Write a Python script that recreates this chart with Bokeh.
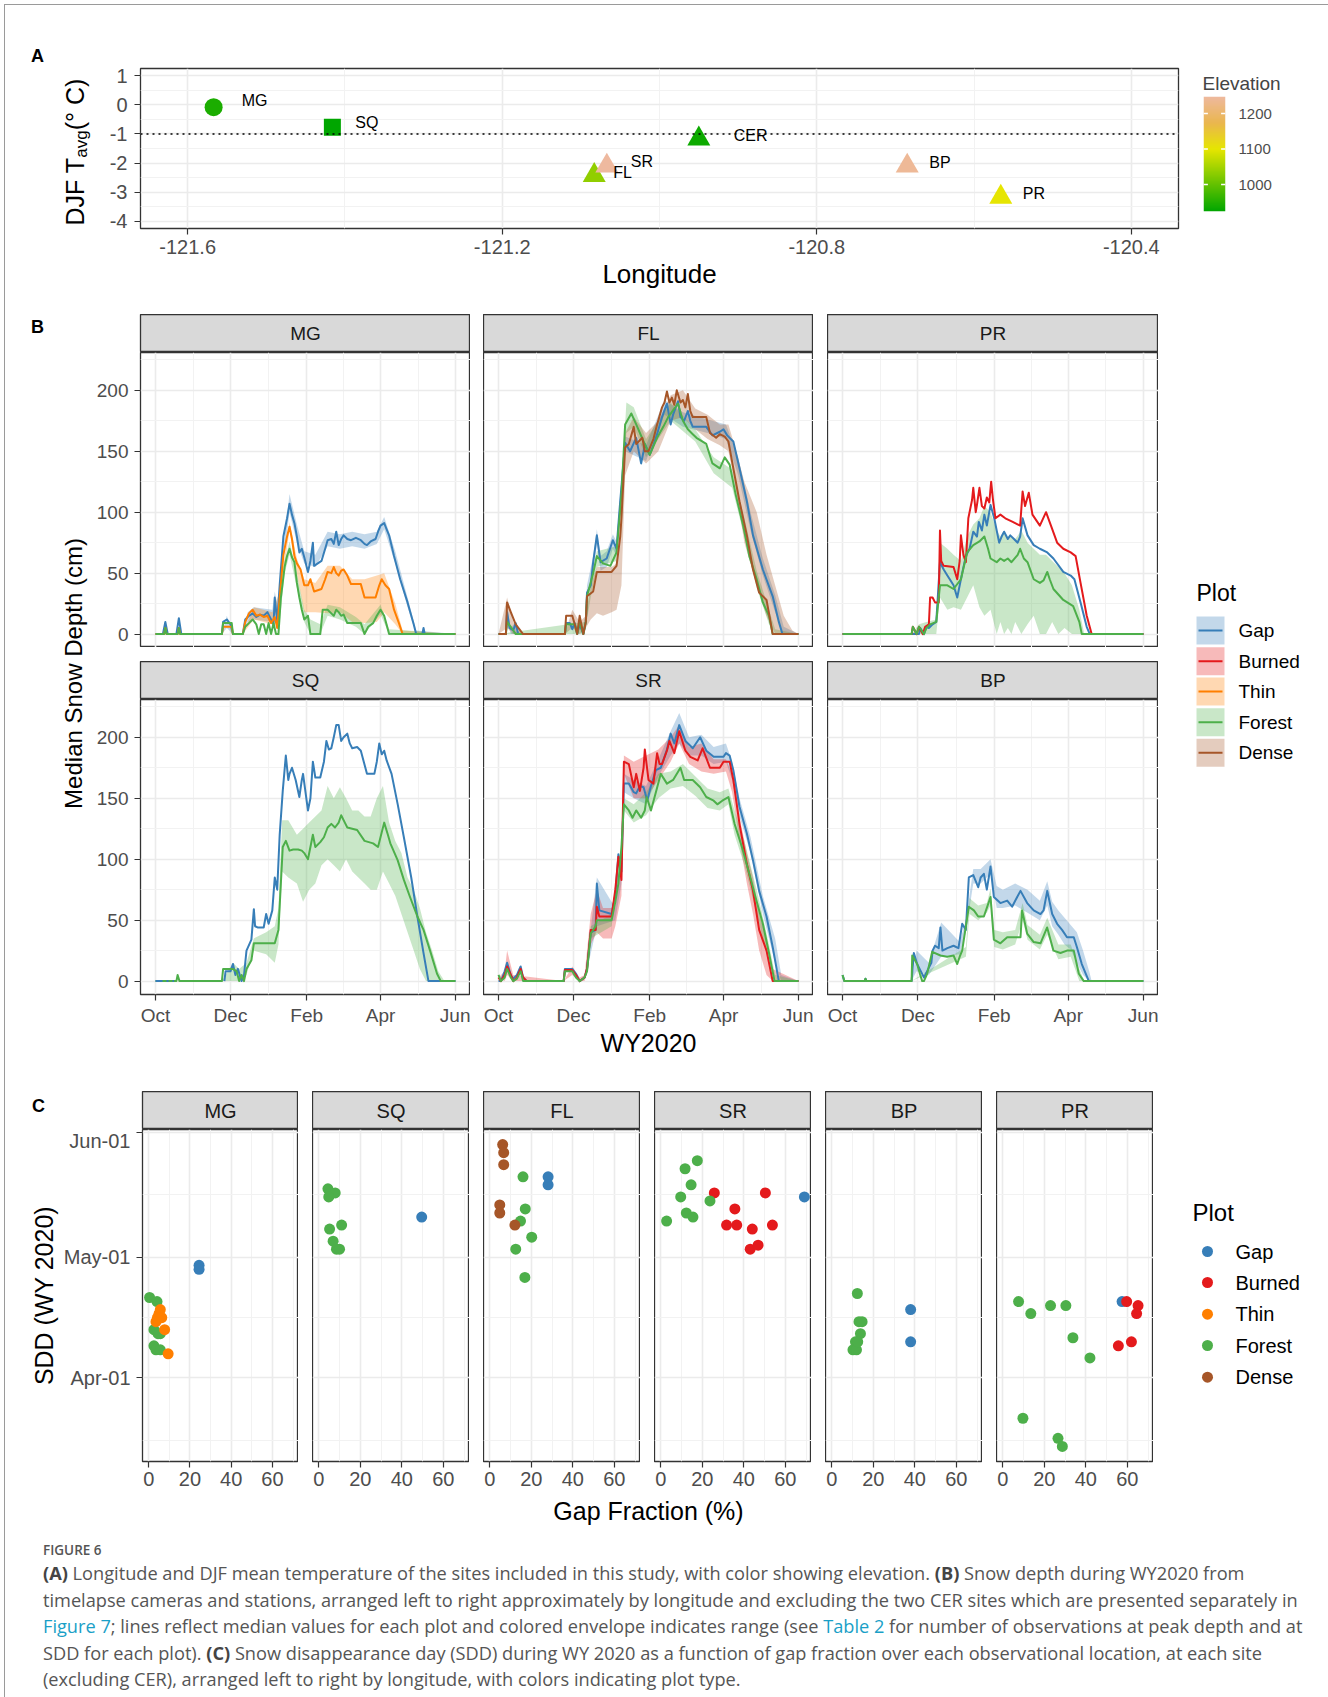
import numpy as np
import pandas as pd
from bokeh.plotting import figure
from bokeh.models import Range1d, FixedTicker, Span, Spacer, Div, ColumnDataSource, LinearColorMapper
from bokeh.layouts import row, column
from bokeh.core.properties import value
from bokeh.transform import linear_cmap, factor_cmap
from bokeh.embed import file_html
from bokeh.resources import INLINE

FONT = "Liberation Sans"

# ---------------- Panel A data ----------------
SITES_A = ["MG", "SQ", "CER", "FL", "SR", "BP", "PR"]
LON_A = [-121.567, -121.416, -120.950, -121.083, -121.067, -120.685, -120.566]
TAVG_A = [-0.08, -0.77, -1.17, -2.42, -2.10, -2.10, -3.17]
ELEV_A = [945, 924, 935, 1035, 1248, 1240, 1100]
SHAPE_A = ["circle", "square", "triangle", "triangle", "triangle", "triangle", "triangle"]
LON_LIMITS = (-121.6, -120.4)
TAVG_LIMITS = (-4, 1)
LON_TICKS = [-121.6, -121.2, -120.8, -120.4]
LON_MINOR = [-121.4, -121.0, -120.6]
TAVG_TICKS = [-4, -3, -2, -1, 0, 1]
TAVG_MINOR = [-3.5, -2.5, -1.5, -0.5, 0.5]
ELEV_TICKS = [1000, 1100, 1200]
TAVG_REF = -1

# ---------------- Panel B data (day since 1 Oct 2019, median depth cm) ----------------
MONTH_TICKS = [0, 61, 123, 183, 244]
MONTH_LABELS = ["Oct", "Dec", "Feb", "Apr", "Jun"]
DEPTH_TICKS = [0, 50, 100, 150, 200]
PLOT_TYPES = ["Gap", "Burned", "Thin", "Forest", "Dense"]
PLOT_COLORS = ["#377EB8", "#E41A1C", "#FF7F00", "#4DAF4A", "#A65628"]

MG_GAP = [(0,0),(6,0),(8,10),(10,0),(17,0),(19,13),(21,0),(54,0),(55,10),(58,12),(61,8),(63,0),(71,0),(73,12),(76,15),(79,17),(82,14),(85,16),(88,15),(91,18),(94,12),(96,8),(97,30),(99,10),(101,40),(104,80),(107,95),(109,107),(111,98),(113,91),(115,80),(117,67),(119,70),(121,63),(124,51),(126,60),(128,75),(129,56),(132,58),(135,60),(138,70),(140,77),(143,78),(145,74),(147,84),(149,73),(151,78),(153,81),(156,78),(159,77),(163,79),(167,77),(170,74),(172,73),(175,76),(179,78),(181,84),(183,89),(186,91),(188,86),(190,81),(194,64),(199,45),(205,26),(210,8),(212,0),(217,0),(218,5),(219,0),(244,0)]
MG_THIN = [(0,0),(7,0),(8,5),(9,0),(18,0),(19,5),(20,0),(54,0),(55,6),(62,6),(63,0),(71,0),(73,10),(76,17),(79,20),(82,15),(85,16),(88,14),(91,15),(94,9),(97,14),(99,5),(101,30),(104,65),(107,80),(109,88),(111,78),(113,64),(115,58),(118,53),(121,40),(124,40),(126,45),(129,35),(132,36),(135,37),(138,45),(140,51),(143,50),(145,55),(147,50),(149,48),(151,52),(153,53),(156,48),(159,41),(163,41),(167,41),(170,30),(175,30),(179,30),(182,40),(184,45),(187,40),(190,37),(194,20),(198,9),(201,0),(244,0)]
MG_FOREST = [(0,0),(7,0),(8,5),(9,0),(18,0),(19,5),(20,0),(54,0),(55,9),(62,9),(63,0),(71,0),(73,6),(76,9),(79,12),(82,8),(84,0),(86,8),(88,8),(90,0),(92,9),(94,0),(96,9),(98,0),(100,0),(102,30),(105,55),(107,64),(109,70),(111,63),(113,59),(115,42),(117,30),(119,20),(121,12),(124,15),(126,0),(134,0),(136,20),(140,20),(143,17),(145,15),(147,20),(149,18),(151,15),(153,16),(156,9),(163,9),(167,9),(170,0),(173,6),(177,9),(180,15),(183,20),(186,15),(190,0),(244,0)]
MG_GAP_ENV = [(0,0,0),(54,0,0),(58,5,15),(63,0,0),(71,0,0),(75,10,18),(80,12,22),(95,10,20),(97,10,35),(100,10,20),(101,35,45),(109,100,115),(115,75,90),(121,58,68),(130,55,65),(140,72,84),(150,70,82),(160,72,84),(170,70,82),(180,74,84),(186,86,96),(195,58,68),(205,22,30),(212,0,3),(244,0,0)]
MG_THIN_ENV = [(0,0,0),(71,0,0),(80,12,22),(95,8,18),(101,28,35),(109,85,92),(115,50,62),(121,18,45),(130,18,42),(140,17,56),(150,18,56),(160,10,45),(170,9,45),(180,10,48),(186,18,50),(195,8,25),(201,0,3),(244,0,0)]
MG_FOREST_ENV = [(0,0,0),(100,0,0),(105,50,60),(109,65,76),(115,38,50),(121,10,20),(126,0,12),(134,0,8),(140,15,24),(150,12,22),(163,6,14),(170,0,8),(183,16,24),(190,0,4),(244,0,0)]

FL_GAP = [(0,0),(6,0),(7,18),(9,5),(12,3),(14,9),(16,0),(54,0),(55,9),(58,9),(60,4),(62,9),(64,0),(66,8),(69,0),(71,10),(72,34),(75,40),(77,59),(80,81),(83,59),(88,62),(93,77),(96,70),(99,109),(103,157),(107,150),(112,161),(116,140),(118,150),(119,156),(123,147),(126,155),(129,164),(133,178),(137,189),(140,172),(142,180),(146,191),(148,178),(151,175),(154,183),(156,175),(158,170),(169,170),(174,163),(180,166),(183,168),(186,163),(191,158),(196,136),(202,109),(207,81),(215,53),(223,31),(228,10),(231,0),(244,0)]
FL_FOREST = [(0,0),(6,0),(7,10),(10,6),(14,0),(54,0),(55,8),(62,8),(64,0),(66,10),(69,0),(71,10),(72,31),(77,50),(80,64),(85,58),(91,56),(96,67),(100,114),(103,172),(108,181),(112,172),(118,158),(123,147),(129,161),(134,170),(138,178),(143,185),(146,189),(150,175),(154,168),(158,164),(161,161),(169,156),(174,140),(180,136),(184,145),(188,139),(193,114),(199,89),(204,64),(210,45),(215,26),(220,15),(223,0),(244,0)]
FL_DENSE = [(0,0),(6,0),(7,26),(10,18),(14,8),(20,0),(54,0),(55,15),(60,15),(62,8),(64,0),(66,15),(69,0),(71,10),(72,31),(77,35),(80,51),(92,51),(96,56),(99,80),(100,95),(103,153),(106,156),(110,170),(112,156),(117,161),(119,150),(122,150),(126,160),(129,172),(133,186),(135,190),(137,199),(139,190),(141,194),(143,188),(145,200),(148,190),(150,192),(152,186),(154,197),(156,183),(158,178),(169,178),(172,165),(177,161),(180,164),(184,162),(187,158),(191,136),(196,109),(202,81),(207,53),(212,34),(218,28),(220,17),(223,0),(244,0)]
FL_DENSE_ENV = [(0,0,0),(7,5,30),(12,0,10),(20,0,0),(54,0,0),(60,5,20),(66,0,10),(71,5,15),(75,12,40),(80,17,55),(85,15,55),(92,18,55),(96,20,58),(100,40,100),(103,130,165),(110,150,178),(120,140,165),(130,150,175),(140,175,196),(150,178,200),(160,168,185),(170,160,180),(180,155,172),(187,150,172),(192,125,155),(200,75,125),(210,40,100),(218,15,65),(225,0,40),(232,0,15),(239,0,3),(244,0,0)]
FL_GAP_ENV = [(0,0,0),(6,0,0),(7,10,22),(10,0,5),(14,0,10),(16,0,0),(70,0,0),(72,28,40),(77,52,64),(80,74,86),(83,52,64),(88,55,68),(93,70,82),(96,64,76),(99,100,115),(103,150,162),(120,142,155),(135,180,192),(150,170,182),(170,165,176),(185,160,172),(195,130,145),(205,85,100),(215,48,62),(225,18,32),(232,0,6),(244,0,0)]
FL_FOREST_ENV = [(0,0,0),(70,0,10),(75,30,45),(80,55,68),(96,60,72),(100,105,120),(104,165,190),(110,170,186),(120,145,160),(140,175,190),(160,158,168),(175,132,145),(190,120,135),(200,80,95),(210,38,52),(220,8,20),(225,0,4),(244,0,0)]

PR_GAP = [(0,0),(62,0),(63,5),(66,0),(68,6),(70,5),(73,8),(76,10),(79,59),(82,53),(85,48),(90,40),(93,30),(97,50),(100,64),(103,70),(106,84),(109,80),(110.5,92),(113,85),(115,98),(117,89),(120,106),(123,95),(127,75),(129,80),(131,84),(134,78),(136,81),(139,78),(142,75),(144,80),(146,95),(150,81),(155,73),(160,70),(166,67),(171,62),(179,51),(185,48),(188,45),(193,26),(198,6),(200.5,0),(244,0)]
PR_BURNED = [(0,0),(56,0),(57,6),(60,0),(62,6),(65,0),(67,6),(70,8),(71,30),(73,30),(75,26),(78,26),(79,85),(80,60),(82,56),(90,55),(93,45),(95,60),(96,81),(98,65),(100,59),(102,95),(105,110),(106,120),(108,100),(109,106),(111,120),(113,105),(115,103),(117,112),(119,108),(120.5,125),(122,110),(124,95),(128,98),(132,95),(138,92),(144,89),(146,117),(148,105),(151,116),(154,98),(160,89),(165,100),(169,89),(174,75),(179,70),(185,67),(189,64),(193,42),(198,15),(202,0),(244,0)]
PR_FOREST = [(0,0),(56,0),(57,6),(60,0),(62,6),(66,0),(68,5),(71,8),(76,10),(79,40),(85,40),(90,37),(96,45),(101,67),(106,73),(111,76),(115,80),(118,70),(120,62),(125,59),(128,62),(131,60),(134,62),(137,59),(142,65),(144,70),(147,62),(150,59),(155,45),(160,42),(163,44),(166,51),(168,45),(171,37),(179,28),(187,23),(192,10),(194,0),(244,0)]
PR_FOREST_ENV = [(0,0,0),(56,0,0),(62,0,8),(68,0,10),(76,0,12),(79,30,75),(85,20,70),(90,22,65),(96,20,60),(101,30,80),(106,40,90),(111,22,95),(115,15,105),(120,20,100),(125,0,85),(128,10,80),(131,0,85),(134,5,80),(137,0,80),(140,10,78),(145,0,85),(150,8,75),(155,15,70),(160,0,65),(165,0,65),(170,10,60),(175,0,55),(180,5,50),(186,0,40),(192,0,20),(196,0,0),(244,0,0)]

SQ_GAP_DASH = [(0,0),(15,0)]
SQ_GAP = [(56,0),(57,8),(61,8),(63,14),(65,5),(67,10),(70,0),(72,5),(74,25),(78,34),(80,59),(81,45),(83,44),(88,44),(90,55),(92,47),(95,58),(97,85),(99,75),(101,120),(103.5,156),(106,185),(108,165),(109,170),(111,175),(114,165),(117,151),(119,165),(120,170),(124,140),(126,150),(128,180),(130,167),(134,167),(137,180),(139,197),(141,190),(143,191),(145,200),(147,210),(149,210),(151,197),(153,200),(156,203),(158,195),(160,191),(164,192),(167,189),(172,170),(178,170),(180,180),(182,195),(184,186),(186,189),(188,181),(192,170),(197,145),(202,118),(208,85),(213,53),(218,23),(222,0),(244,0)]
SQ_FOREST = [(0,0),(17,0),(18,5),(19.5,0),(54,0),(55,10),(63,10),(66,8),(68,0),(70,5),(72,0),(74,10),(78,17),(80,31),(97,31),(100,42),(103.5,110),(106,115),(109,107),(112,108),(116,108),(119,107),(121,105),(124,100),(128,120),(130,110),(134,114),(137,118),(140,126),(143,129),(146,126),(149,130),(151,136),(154,130),(156,126),(160,125),(164,124),(170,115),(177,113),(181,110),(186,130),(189,120),(191,113),(197,99),(202,83),(207,69),(213,53),(218,42),(223,26),(229,6),(232,0),(244,0)]
SQ_FOREST_ENV = [(0,0,0),(54,0,0),(63,0,15),(68,0,10),(74,5,15),(80,25,35),(90,22,40),(97,15,45),(100,30,60),(103,90,132),(108,85,132),(115,80,120),(120,65,125),(125,75,130),(130,80,135),(135,95,140),(140,100,160),(145,95,150),(150,90,159),(155,100,150),(160,90,140),(165,85,140),(170,80,135),(175,75,135),(180,75,150),(185,90,160),(190,80,130),(195,70,115),(200,55,105),(205,40,85),(210,25,75),(215,10,60),(220,0,40),(225,0,25),(230,0,8),(235,0,0),(244,0,0)]

SR_GAP = [(0,0),(2,0),(5,8),(7,15),(10,5),(12,2),(15,5),(18,12),(20,3),(23,0),(53,0),(54,10),(60,10),(63,6),(66,0),(70,3),(72,10),(75,40),(79,42),(80,80),(82,58),(92,55),(95,70),(97.5,104),(100,90),(102,162),(106,162),(110,155),(112,154),(115,160),(118,159),(121,148),(124,160),(128,173),(132,175),(137,190),(140,203),(143,195),(147,210),(152,197),(156,193),(158,191),(164,200),(169,189),(175,184),(183,184),(185,187),(188,185),(191,173),(196,143),(202,121),(207,99),(212,74),(218,53),(223,28),(228,0),(244,0)]
SR_BURNED = [(0,3),(2,0),(5,5),(7,12),(10,5),(12,0),(15,3),(18,10),(20,3),(23,0),(53,0),(54,9),(60,9),(63,5),(66,0),(70,3),(72,10),(75,42),(79,42),(80,61),(82,53),(92,53),(95,75),(97.5,102),(100,83),(102,180),(106,178),(110,159),(112,170),(115,156),(118,175),(119,190),(122,165),(126,162),(129,187),(131,178),(133,178),(137,189),(139,197),(143,187),(147,205),(152,189),(156,184),(162,181),(166,191),(172,175),(180,175),(183,180),(188,180),(191,165),(196,129),(202,96),(207,74),(212,42),(218,25),(223,0),(244,0)]
SR_FOREST = [(0,5),(2,0),(5,3),(7,10),(10,3),(12,0),(15,2),(18,8),(20,0),(53,0),(54,8),(60,8),(63,3),(66,0),(70,3),(72,8),(75,39),(79,45),(80,50),(92,50),(95,65),(97.5,80),(100,110),(102,145),(106,140),(109,134),(112,140),(116,134),(119,140),(120.5,151),(124,140),(128,155),(132,170),(137,162),(142,165),(148,175),(151,165),(158,165),(164,159),(169,151),(175,148),(178,145),(182,148),(187,151),(192,129),(198,110),(204,88),(209,69),(215,47),(220,23),(224.5,0),(244,0)]
SR_GAP_ENV = [(0,0,0),(70,0,0),(80,45,85),(95,50,60),(100,80,100),(102,155,170),(110,150,165),(120,145,160),(130,168,182),(140,185,205),(147,195,220),(155,185,200),(165,185,202),(175,178,192),(185,180,195),(190,165,180),(196,135,150),(205,105,118),(215,55,70),(225,15,35),(230,0,5),(244,0,0)]
SR_BURNED_ENV = [(0,3,3),(5,0,8),(7,5,25),(12,0,5),(53,0,0),(60,5,12),(66,0,3),(70,0,5),(75,30,55),(80,40,75),(85,35,60),(92,35,60),(95,45,75),(100,70,100),(102,170,185),(110,150,180),(120,150,185),(130,165,190),(140,180,200),(147,195,210),(155,178,192),(165,172,195),(175,170,182),(185,172,182),(190,155,170),(196,115,135),(202,80,105),(207,55,85),(212,25,55),(218,5,35),(223,0,10),(244,0,0)]
SR_FOREST_ENV = [(0,0,0),(70,0,0),(75,35,45),(92,45,55),(100,100,115),(102,140,150),(110,130,145),(120,136,155),(130,150,170),(140,158,172),(150,160,178),(160,152,168),(170,142,158),(180,140,155),(187,145,158),(192,120,140),(200,95,115),(210,55,75),(220,15,30),(225,0,5),(244,0,0)]

BP_GAP = [(0,5),(1.5,0),(18,0),(18.6,2),(19.5,0),(56,0),(57.8,23),(60.5,14),(63,9),(66,3),(69,9),(72,15),(73,25),(75,29),(78,27),(79.4,44),(81,25),(85,27),(90,29),(94,27),(97,47),(100,42),(102.4,85),(106,87),(110,77),(112,85),(114.6,88),(117,75),(120,94),(122.7,69),(128,64),(133.5,66),(137.5,61),(141.6,69),(144.3,74),(149.7,64),(155,58),(160.5,55),(163,58),(166,74),(170,55),(174,47),(178,42),(182,36),(187.5,36),(190,28),(194,14),(199.7,0),(244,0)]
BP_FOREST = [(0,5),(1.5,0),(18,0),(18.6,2),(19.5,0),(56,0),(56.5,21),(60.5,14),(63,5),(64.6,0),(66,0),(68.6,6),(72.7,24),(79.4,21),(84.8,20),(90,21),(93,14),(95,20),(97,25),(102.4,61),(106.5,58),(110,53),(114.6,53),(117,60),(120,69),(122.7,34),(128,31),(133.5,36),(141.6,36),(144.3,36),(145.6,58),(149.7,39),(155,32),(160.5,31),(165.9,44),(171,25),(176.7,23),(182,25),(187.5,25),(191.6,6),(195.6,0),(244,0)]
BP_GAP_ENV = [(0,0,0),(56,0,0),(60,8,25),(70,5,15),(80,20,48),(95,22,32),(100,40,50),(106,80,92),(112,80,92),(120,88,100),(125,60,78),(130,60,75),(140,62,80),(150,56,75),(160,50,66),(166,62,82),(170,45,65),(175,38,58),(180,30,52),(185,26,46),(190,15,40),(195,5,25),(200,0,8),(202,0,0),(244,0,0)]
BP_FOREST_ENV = [(0,0,0),(56,0,0),(100,20,28),(103,55,68),(110,50,62),(117,56,64),(120,62,76),(123,28,42),(130,26,40),(140,30,42),(146,50,64),(150,34,46),(160,26,38),(166,38,52),(175,18,30),(185,20,30),(192,0,10),(196,0,0),(244,0,0)]

# ---------------- Panel C data (gap fraction %, SDD date, plot) ----------------
SDD_TICK_DATES = ["04-01", "05-01", "06-01"]
SDD_TICK_LABELS = ["Apr-01", "May-01", "Jun-01"]
GF_TICKS = [0, 20, 40, 60]
C_SITES = ["MG", "SQ", "FL", "SR", "BP", "PR"]
SDD_MG = [(24.4,"04-29","Gap"),(24.4,"04-28","Gap"),(0.4,"04-21","Forest"),(4.0,"04-20","Forest"),(2.5,"04-13","Forest"),(5.6,"04-12","Forest"),(4.5,"04-12","Forest"),(2.5,"04-09","Forest"),(3.5,"04-08","Forest"),(5.6,"04-08","Forest"),(5.6,"04-18","Thin"),(5.0,"04-17","Thin"),(4.2,"04-16","Thin"),(6.3,"04-16","Thin"),(3.5,"04-15","Thin"),(7.7,"04-13","Thin"),(9.4,"04-07","Thin")]
SDD_SQ = [(49.6,"05-11","Gap"),(4.4,"05-18","Forest"),(5.8,"05-17","Forest"),(7.9,"05-17","Forest"),(4.8,"05-16","Forest"),(5.2,"05-08","Forest"),(11.0,"05-09","Forest"),(6.9,"05-05","Forest"),(8.5,"05-03","Forest"),(10.0,"05-03","Forest")]
SDD_FL = [(28.1,"05-21","Gap"),(28.1,"05-19","Gap"),(16.0,"05-21","Forest"),(17.1,"05-13","Forest"),(14.8,"05-10","Forest"),(20.2,"05-06","Forest"),(12.5,"05-03","Forest"),(16.9,"04-26","Forest"),(6.2,"05-29","Dense"),(6.7,"05-27","Dense"),(6.7,"05-24","Dense"),(4.8,"05-14","Dense"),(4.8,"05-12","Dense"),(12.1,"05-09","Dense")]
SDD_SR = [(69.2,"05-16","Gap"),(25.8,"05-17","Burned"),(35.7,"05-13","Burned"),(50.4,"05-17","Burned"),(31.7,"05-09","Burned"),(36.6,"05-09","Burned"),(53.8,"05-09","Burned"),(44.1,"05-08","Burned"),(43.1,"05-03","Burned"),(46.9,"05-04","Burned"),(2.8,"05-10","Forest"),(11.7,"05-23","Forest"),(17.6,"05-25","Forest"),(14.6,"05-19","Forest"),(9.6,"05-16","Forest"),(12.3,"05-12","Forest"),(15.5,"05-11","Forest"),(23.7,"05-15","Forest")]
SDD_BP = [(38.0,"04-18","Gap"),(38.0,"04-10","Gap"),(12.3,"04-22","Forest"),(13.1,"04-15","Forest"),(14.6,"04-15","Forest"),(13.8,"04-12","Forest"),(11.4,"04-10","Forest"),(10.2,"04-08","Forest"),(11.9,"04-08","Forest"),(12.5,"04-10","Forest")]
SDD_PR = [(57.5,"04-20","Gap"),(59.7,"04-20","Burned"),(65.2,"04-19","Burned"),(64.5,"04-17","Burned"),(55.7,"04-09","Burned"),(62.0,"04-10","Burned"),(7.6,"04-20","Forest"),(13.5,"04-17","Forest"),(23.0,"04-19","Forest"),(30.4,"04-19","Forest"),(33.8,"04-11","Forest"),(42.0,"04-06","Forest"),(9.7,"03-22","Forest"),(26.6,"03-17","Forest"),(28.7,"03-15","Forest")]

# ---------------- tables built from the arrays ----------------
LINES = {("MG","Gap"): MG_GAP, ("MG","Thin"): MG_THIN, ("MG","Forest"): MG_FOREST,
         ("FL","Gap"): FL_GAP, ("FL","Forest"): FL_FOREST, ("FL","Dense"): FL_DENSE,
         ("PR","Gap"): PR_GAP, ("PR","Burned"): PR_BURNED, ("PR","Forest"): PR_FOREST,
         ("SQ","Gap"): SQ_GAP, ("SQ","Forest"): SQ_FOREST,
         ("SR","Gap"): SR_GAP, ("SR","Burned"): SR_BURNED, ("SR","Forest"): SR_FOREST,
         ("BP","Gap"): BP_GAP, ("BP","Forest"): BP_FOREST}
ENVS = {("MG","Gap"): MG_GAP_ENV, ("MG","Thin"): MG_THIN_ENV, ("MG","Forest"): MG_FOREST_ENV,
        ("FL","Gap"): FL_GAP_ENV, ("FL","Forest"): FL_FOREST_ENV, ("FL","Dense"): FL_DENSE_ENV,
        ("PR","Forest"): PR_FOREST_ENV, ("SQ","Forest"): SQ_FOREST_ENV,
        ("SR","Gap"): SR_GAP_ENV, ("SR","Burned"): SR_BURNED_ENV, ("SR","Forest"): SR_FOREST_ENV,
        ("BP","Gap"): BP_GAP_ENV, ("BP","Forest"): BP_FOREST_ENV}
SDD = {"MG": SDD_MG, "SQ": SDD_SQ, "FL": SDD_FL, "SR": SDD_SR, "BP": SDD_BP, "PR": SDD_PR}
COLOR_OF = dict(zip(PLOT_TYPES, PLOT_COLORS))

APR1 = pd.Timestamp("2020-04-01")
def sdd_day(s):
    return (pd.Timestamp("2020-" + s) - APR1).days

def expand(lo, hi, f=0.05):
    d = (hi - lo) * f
    return (lo - d, hi + d)

A_XR = expand(*LON_LIMITS)
A_YR = expand(*TAVG_LIMITS)
all_days = [d for s in LINES.values() for d, _ in s]
all_vals = [v for s in LINES.values() for _, v in s] + [h for e in ENVS.values() for _, _, h in e]
B_XR = expand(min(all_days), max(all_days))
B_YR = expand(0, max(all_vals))
all_gf = [g for s in SDD.values() for g, _, _ in s]
all_sd = [sdd_day(d) for s in SDD.values() for _, d, _ in s]
C_XR = expand(min(all_gf), max(all_gf))
C_YR = expand(min(all_sd), max(all_sd))
SDD_TICKS = [sdd_day(d) for d in SDD_TICK_DATES]
SDD_MINOR = [sdd_day("03-01") / 2.0] + [(SDD_TICKS[i] + SDD_TICKS[i + 1]) / 2.0 for i in range(len(SDD_TICKS) - 1)]
MONTH_MINOR = [(MONTH_TICKS[i] + MONTH_TICKS[i + 1]) / 2.0 for i in range(len(MONTH_TICKS) - 1)]
DEPTH_MINOR = [t + 25 for t in DEPTH_TICKS]
GF_MINOR = [t + 10 for t in GF_TICKS]

# ---------------- helpers ----------------
def interp_palette(stops, n=256):
    fr = [s[0] for s in stops]
    rgb = [tuple(int(s[1][i:i + 2], 16) for i in (1, 3, 5)) for s in stops]
    out = []
    for t in np.linspace(0, 1, n):
        j = int(np.searchsorted(fr, t, side="right") - 1)
        j = min(max(j, 0), len(stops) - 2)
        f = (t - fr[j]) / (fr[j + 1] - fr[j])
        c = [int(round(rgb[j][k] + f * (rgb[j + 1][k] - rgb[j][k]))) for k in range(3)]
        out.append("#%02x%02x%02x" % tuple(c))
    return out

ELEV_LOW, ELEV_HIGH = min(ELEV_A), max(ELEV_A)
ELEV_PALETTE = interp_palette([(0.0, "#00A600"), (0.54, "#E6E600"), (0.77, "#EAB64E"), (1.0, "#EEB99F")])

def style(p, tick_size):
    for ax in p.axis:
        ax.axis_line_color = None
        ax.major_tick_line_color = "#333333"
        ax.major_tick_line_width = 1.2
        ax.major_tick_out = 6
        ax.major_tick_in = 0
        ax.minor_tick_line_color = None
        ax.major_label_text_color = "#4D4D4D"
        ax.major_label_text_font = FONT
        ax.major_label_text_font_size = tick_size
        ax.major_label_standoff = 6
        ax.axis_label_text_font = FONT
        ax.axis_label_text_font_style = "normal"
        ax.axis_label_text_color = "black"
        ax.axis_label_text_font_size = "25px"
    p.grid.grid_line_color = "#EBEBEB"
    p.grid.grid_line_width = 1.6
    p.grid.minor_grid_line_color = "#F2F2F2"
    p.grid.minor_grid_line_width = 1.0
    p.outline_line_color = "#333333"
    p.outline_line_width = 1.3
    p.background_fill_color = "white"
    p.border_fill_color = None

def canvas(w, h):
    p = figure(width=w, height=h, x_range=Range1d(0, w), y_range=Range1d(h, 0),
               x_axis_location=None, y_axis_location=None, min_border=0,
               toolbar_location=None, output_backend="svg")
    p.grid.visible = False
    p.outline_line_color = None
    p.border_fill_color = None
    p.background_fill_color = None
    return p

def put_text(p, x, y, txt, size, align="left", baseline="middle", color="black", bold=False, angle=0.0):
    p.text(x=[x], y=[y], text=[txt], text_font=value(FONT), text_font_size=size,
           text_align=align, text_baseline=baseline, text_color=color,
           text_font_style="bold" if bold else "normal", angle=angle)

def strip(label, w, lb, size):
    p = figure(width=w, height=38, x_range=Range1d(0, 1), y_range=Range1d(0, 1),
               x_axis_location=None, y_axis_location=None, min_border=0, min_border_left=lb,
               toolbar_location=None, output_backend="svg")
    p.grid.visible = False
    p.background_fill_color = "#D9D9D9"
    p.border_fill_color = None
    p.outline_line_color = "#333333"
    p.outline_line_width = 1.3
    p.text(x=[0.5], y=[0.5], text=[label], text_font=value(FONT), text_font_size=size,
           text_align="center", text_baseline="middle", text_color="#1A1A1A")
    return p

# ---------------- Panel A ----------------
labA = canvas(92, 314)
put_text(labA, 37, 55, "A", "18px", align="center", bold=True)
# rotated title "DJF T_avg (° C)" assembled from three pieces (subscript smaller, shifted)
put_text(labA, 74, 191, "DJF T", "25px", align="center", angle=np.pi / 2)
put_text(labA, 81, 143.5, "avg", "17px", align="center", angle=np.pi / 2)
put_text(labA, 74, 100.5, " (\u00b0 C)", "25px", align="center", angle=np.pi / 2)

pA = figure(width=1098, height=314, x_range=Range1d(*A_XR), y_range=Range1d(*A_YR),
            min_border=0, min_border_left=48, min_border_right=12, min_border_top=68,
            min_border_bottom=86, toolbar_location=None, output_backend="svg")
style(pA, "20px")
pA.xaxis.ticker = FixedTicker(ticks=LON_TICKS, minor_ticks=LON_MINOR)
pA.yaxis.ticker = FixedTicker(ticks=TAVG_TICKS, minor_ticks=TAVG_MINOR)
pA.xaxis.major_label_overrides = {t: "%g" % t for t in LON_TICKS}
pA.yaxis.major_label_overrides = {t: "%g" % t for t in TAVG_TICKS}
pA.xaxis.major_label_standoff = 5
pA.yaxis.major_label_standoff = 7
pA.xaxis.axis_label = "Longitude"
pA.xaxis.axis_label_standoff = 2
pA.xaxis.axis_label_text_font_size = "26px"
pA.add_layout(Span(location=TAVG_REF, dimension="width", line_color="black",
                   line_dash="2 4", line_width=1.6))
SHAPE_SIZE = {"circle": 18, "square": 17, "triangle": 23}
srcA = ColumnDataSource(dict(lon=LON_A, t=TAVG_A, elev=ELEV_A, shape=SHAPE_A, site=SITES_A,
                             size=[SHAPE_SIZE[s] for s in SHAPE_A]))
pA.scatter(x="lon", y="t", marker="shape", size="size", source=srcA, line_color=None,
           fill_color=linear_cmap("elev", ELEV_PALETTE, ELEV_LOW, ELEV_HIGH))
A_LABEL_DX = [28, 23, 35, 19, 24, 22, 22]
A_LABEL_DY = [-7, -5, -3, -3, -4, -3, -4]
srcL = ColumnDataSource(dict(lon=LON_A, t=TAVG_A, site=SITES_A, dx=A_LABEL_DX, dy=A_LABEL_DY))
pA.text(x="lon", y="t", text="site", x_offset="dx", y_offset="dy", source=srcL,
        text_font=value(FONT), text_font_size="16px", text_align="left",
        text_baseline="middle", text_color="black")

pCb = figure(width=138, height=314, x_range=Range1d(0, 1), y_range=Range1d(ELEV_LOW, ELEV_HIGH),
             x_axis_location=None, y_axis_location="right", min_border=0, min_border_left=13,
             min_border_right=103, min_border_top=96, min_border_bottom=103,
             toolbar_location=None, output_backend="svg", title="Elevation")
pCb.grid.visible = False
pCb.outline_line_color = None
pCb.border_fill_color = None
mapper = LinearColorMapper(palette=ELEV_PALETTE, low=ELEV_LOW, high=ELEV_HIGH)
grad = np.linspace(ELEV_LOW, ELEV_HIGH, 256).reshape(256, 1)
pCb.image(image=[grad], x=0, y=ELEV_LOW, dw=1, dh=ELEV_HIGH - ELEV_LOW, color_mapper=mapper)
pCb.segment(x0=[0] * 3, x1=[0.2] * 3, y0=ELEV_TICKS, y1=ELEV_TICKS, line_color="white", line_width=1.5)
pCb.segment(x0=[0.8] * 3, x1=[1] * 3, y0=ELEV_TICKS, y1=ELEV_TICKS, line_color="white", line_width=1.5)
pCb.yaxis.ticker = FixedTicker(ticks=ELEV_TICKS)
pCb.yaxis.axis_line_color = None
pCb.yaxis.major_tick_line_color = None
pCb.yaxis.minor_tick_line_color = None
pCb.yaxis.major_label_standoff = 7
pCb.yaxis.major_label_text_font = FONT
pCb.yaxis.major_label_text_font_size = "15px"
pCb.yaxis.major_label_text_color = "#4D4D4D"
pCb.title.text_font = FONT
pCb.title.text_font_size = "19px"
pCb.title.text_font_style = "normal"
pCb.title.align = "left"
pCb.title.offset = -1
pCb.title.standoff = 6

rowA = row(labA, column(pA), column(pCb))

# ---------------- Panel B ----------------
def facet_b(site, w, lb, bottom, xlabel=None):
    bb = 76 if bottom else 0
    p = figure(width=w, height=295 + bb, x_range=Range1d(*B_XR), y_range=Range1d(*B_YR),
               min_border=0, min_border_left=lb, min_border_bottom=bb,
               toolbar_location=None, output_backend="svg")
    style(p, "19px")
    xt = FixedTicker(ticks=MONTH_TICKS, minor_ticks=MONTH_MINOR)
    yt = FixedTicker(ticks=DEPTH_TICKS, minor_ticks=DEPTH_MINOR)
    p.xaxis.ticker = xt
    p.yaxis.ticker = yt
    p.xgrid.ticker = xt
    p.ygrid.ticker = yt
    p.xaxis.major_label_overrides = dict(zip(MONTH_TICKS, MONTH_LABELS))
    p.xaxis.major_label_standoff = 4
    if not bottom:
        p.xaxis.visible = False
    if lb == 0:
        p.yaxis.visible = False
    if xlabel:
        p.xaxis.axis_label = xlabel
        p.xaxis.axis_label_standoff = 0
    for pt in PLOT_TYPES:
        if (site, pt) in ENVS:
            e = ENVS[(site, pt)]
            p.varea(x=[a for a, _, _ in e], y1=[b for _, b, _ in e], y2=[c for _, _, c in e],
                    fill_color=COLOR_OF[pt], fill_alpha=0.3)
    for pt in PLOT_TYPES:
        if (site, pt) in LINES:
            s = LINES[(site, pt)]
            p.line(x=[a for a, _ in s], y=[b for _, b in s], line_color=COLOR_OF[pt],
                   line_width=2, line_join="round")
    if site == "SQ":
        p.line(x=[a for a, _ in SQ_GAP_DASH], y=[b for _, b in SQ_GAP_DASH],
               line_color=COLOR_OF["Gap"], line_width=2, line_dash="7 4 2 4")
    return p

labB = canvas(92, 756)
put_text(labB, 37, 12, "B", "18px", align="center", bold=True)
put_text(labB, 73, 359, "Median Snow Depth (cm)", "24px", align="center", angle=np.pi / 2)

col1 = column(strip("MG", 378, 48, "19px"), facet_b("MG", 378, 48, False), Spacer(width=378, height=14),
              strip("SQ", 378, 48, "19px"), facet_b("SQ", 378, 48, True))
col2 = column(strip("FL", 330, 0, "19px"), facet_b("FL", 330, 0, False), Spacer(width=330, height=14),
              strip("SR", 330, 0, "19px"), facet_b("SR", 330, 0, True, "WY2020"))
col3 = column(strip("PR", 331, 0, "19px"), facet_b("PR", 331, 0, False), Spacer(width=331, height=14),
              strip("BP", 331, 0, "19px"), facet_b("BP", 331, 0, True))

legB = canvas(170, 756)
put_text(legB, 38, 278, "Plot", "23px")
KEY_Y_B = [316, 346.7, 377, 407.7, 438.3]
legB.rect(x=[52] * 5, y=KEY_Y_B, width=28, height=28, fill_color=PLOT_COLORS, fill_alpha=0.3, line_color=None)
legB.segment(x0=[40] * 5, x1=[64] * 5, y0=KEY_Y_B, y1=KEY_Y_B, line_color=PLOT_COLORS, line_width=2)
for yk, lab in zip(KEY_Y_B, PLOT_TYPES):
    put_text(legB, 80, yk, lab, "19px")

rowB = row(labB, col1, Spacer(width=13, height=756), col2, Spacer(width=14, height=756), col3, legB)

# ---------------- Panel C ----------------
def facet_c(site, w, lb):
    p = figure(width=w, height=366, x_range=Range1d(*C_XR), y_range=Range1d(*C_YR),
               min_border=0, min_border_left=lb, min_border_bottom=34,
               toolbar_location=None, output_backend="svg")
    style(p, "20px")
    xt = FixedTicker(ticks=GF_TICKS, minor_ticks=GF_MINOR)
    yt = FixedTicker(ticks=SDD_TICKS, minor_ticks=SDD_MINOR)
    p.xaxis.ticker = xt
    p.yaxis.ticker = yt
    p.xgrid.ticker = xt
    p.ygrid.ticker = yt
    p.yaxis.major_label_overrides = dict(zip(SDD_TICKS, SDD_TICK_LABELS))
    p.xaxis.major_label_standoff = 4
    if lb == 0:
        p.yaxis.visible = False
    rows = SDD[site]
    src = ColumnDataSource(dict(gf=[g for g, _, _ in rows], day=[sdd_day(d) for _, d, _ in rows],
                                plot=[t for _, _, t in rows]))
    p.scatter(x="gf", y="day", source=src, size=11, line_color=None,
              fill_color=factor_cmap("plot", PLOT_COLORS, PLOT_TYPES))
    return p

labC = canvas(60, 425)
put_text(labC, 38, 35, "C", "18px", align="center", bold=True)
put_text(labC, 43, 225, "SDD (WY 2020)", "25px", align="center", angle=np.pi / 2)

c_children = [labC]
for i, site in enumerate(C_SITES):
    w = 238 if i == 0 else 157
    lb = 81 if i == 0 else 0
    if i > 0:
        c_children.append(Spacer(width=14, height=425))
    c_children.append(column(Spacer(width=w, height=21), strip(site, w, lb, "20px"), facet_c(site, w, lb)))

legC = canvas(175, 425)
put_text(legC, 39, 142, "Plot", "24px")
KEY_Y_C = [181, 212, 243.7, 275, 306.7]
legC.scatter(x=[54] * 5, y=KEY_Y_C, size=11, fill_color=PLOT_COLORS, line_color=None)
for yk, lab in zip(KEY_Y_C, PLOT_TYPES):
    put_text(legC, 82, yk, lab, "20px")
c_children.append(legC)
rowC = row(*c_children)

gapTitle = canvas(1328, 30)
put_text(gapTitle, 648, 15, "Gap Fraction (%)", "25px", align="center")

LINK = "#1a9fc7"
caption_html = (
    '<div style="font-family:\'Open Sans\',sans-serif;color:#555555;padding-left:38px;white-space:nowrap;">'
    '<div style="font-size:13.5px;font-weight:600;line-height:18px;margin-top:11px;">FIGURE 6</div>'
    '<div style="font-size:18.2px;line-height:26.5px;margin-top:1px;">'
    '<b style="color:#444">(A)</b> Longitude and DJF mean temperature of the sites included in this study, with color showing elevation. '
    '<b style="color:#444">(B)</b> Snow depth during WY2020 from<br>'
    'timelapse cameras and stations, arranged left to right approximately by longitude and excluding the two CER sites which are presented separately in<br>'
    '<span style="color:' + LINK + '">Figure 7</span>; lines reflect median values for each plot and colored envelope indicates range (see '
    '<span style="color:' + LINK + '">Table 2</span> for number of observations at peak depth and at<br>'
    'SDD for each plot). <b style="color:#444">(C)</b> Snow disappearance day (SDD) during WY 2020 as a function of gap fraction over each observational location, at each site<br>'
    '(excluding CER), arranged left to right by longitude, with colors indicating plot type.'
    '</div></div>')
caption = Div(text=caption_html, width=1328, height=172)

layout = column(rowA, rowB, rowC, gapTitle, caption,
                styles={"outline": "1px solid #9a9a9a", "outline-offset": "-5px"})

open("out.html", "w").write(file_html(layout, INLINE))
